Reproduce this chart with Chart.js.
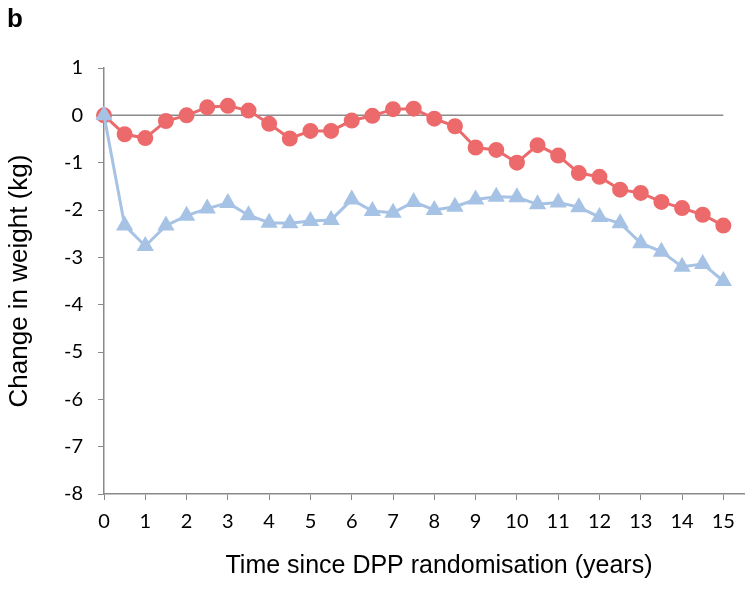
<!DOCTYPE html>
<html>
<head>
<meta charset="utf-8">
<script src="https://cdn.jsdelivr.net/npm/chart.js@4.4.1/dist/chart.umd.min.js"></script>
<style>
  html, body { margin: 0; padding: 0; background: #fff; }
  #wrap { width: 754px; height: 590px; }
</style>
</head>
<body>
<div id="wrap"><canvas id="chart" width="754" height="590"></canvas></div>
<script>
const years = [0, 0.5, 1, 1.5, 2, 2.5, 3, 3.5, 4, 4.5, 5, 5.5, 6, 6.5, 7, 7.5, 8, 8.5, 9, 9.5, 10, 10.5, 11, 11.5, 12, 12.5, 13, 13.5, 14, 14.5, 15];
const redSerie = [0, -0.4, -0.48, -0.12, 0, 0.17, 0.2, 0.1, -0.18, -0.49, -0.33, -0.33, -0.11, -0.01, 0.13, 0.14, -0.07, -0.23, -0.68, -0.73, -1.0, -0.63, -0.85, -1.22, -1.3, -1.57, -1.64, -1.83, -1.96, -2.1, -2.33];
const blueSerie = [0, -2.33, -2.76, -2.33, -2.12, -1.97, -1.85, -2.11, -2.27, -2.28, -2.23, -2.21, -1.78, -2.02, -2.06, -1.83, -2.0, -1.93, -1.78, -1.72, -1.73, -1.88, -1.84, -1.94, -2.15, -2.28, -2.7, -2.88, -3.2, -3.14, -3.5];
const xTicks = [0, 1, 2, 3, 4, 5, 6, 7, 8, 9, 10, 11, 12, 13, 14, 15];
const yTicks = [1, 0, -1, -2, -3, -4, -5, -6, -7, -8];
const zeroLine = [0, 15];

const gris = '#8a8a8a';
const fuenteTicks = 'Lato, "Open Sans", sans-serif';
const fuenteTitulos = '"Liberation Sans", Arial, sans-serif';

function puntos(serie) { return serie.map((v, i) => ({ x: years[i], y: v })); }

// titulos dibujados a mano para ubicarlos como en la figura original
const textos = {
  id: 'textos',
  afterDraw(c) {
    const ctx = c.ctx;
    const area = c.chartArea;
    ctx.save();
    ctx.fillStyle = '#000';
    ctx.font = 'bold 26px ' + fuenteTitulos;
    ctx.textBaseline = 'alphabetic';
    ctx.textAlign = 'left';
    ctx.fillText('b', 7, 27);

    ctx.font = '25px ' + fuenteTitulos;
    ctx.textAlign = 'center';
    ctx.textBaseline = 'middle';
    ctx.fillText('Time since DPP randomisation (years)', 439, 566);

    ctx.translate(20, (area.top + area.bottom) / 2);
    ctx.rotate(-Math.PI / 2);
    ctx.font = '26px ' + fuenteTitulos;
    ctx.fillText('Change in weight (kg)', 0, 0);
    ctx.restore();
  }
};

new Chart(document.getElementById('chart'), {
  type: 'line',
  data: {
    datasets: [
      { data: puntos(blueSerie), borderColor: '#a6c2e4', backgroundColor: '#a6c2e4', borderWidth: 3, pointStyle: 'triangle', pointRadius: 7, order: 1 },
      { data: puntos(redSerie), borderColor: '#ec6a6b', backgroundColor: '#ec6a6b', borderWidth: 3, pointStyle: 'circle', pointRadius: 6.5, order: 2 },
      { data: zeroLine.map(x => ({ x, y: 0 })), borderColor: gris, borderWidth: 1.5, pointRadius: 0, order: 3 }
    ]
  },
  options: {
    responsive: false,
    animation: false,
    clip: false,
    layout: { padding: { top: 68, right: 8, left: 0, bottom: 0 } },
    plugins: { legend: { display: false }, tooltip: { enabled: false } },
    scales: {
      x: {
        type: 'linear', min: 0, max: 15.5,
        afterBuildTicks: s => { s.ticks = xTicks.map(v => ({ value: v })); },
        afterFit: s => { s.height = 96; },
        border: { color: gris, width: 1.5 },
        grid: { drawOnChartArea: false, drawTicks: true, tickLength: 6, color: gris },
        ticks: { color: '#000', font: { family: fuenteTicks, size: 20 }, padding: 10, maxRotation: 0, autoSkip: false }
      },
      y: {
        type: 'linear', min: -8, max: 1,
        afterBuildTicks: s => { s.ticks = yTicks.map(v => ({ value: v })); },
        afterFit: s => { s.width = 104; },
        border: { color: gris, width: 1.5 },
        grid: { drawOnChartArea: false, drawTicks: true, tickLength: 6, color: gris },
        ticks: { color: '#000', font: { family: fuenteTicks, size: 20 }, padding: 15 }
      }
    }
  },
  plugins: [textos]
});
</script>
</body>
</html>
